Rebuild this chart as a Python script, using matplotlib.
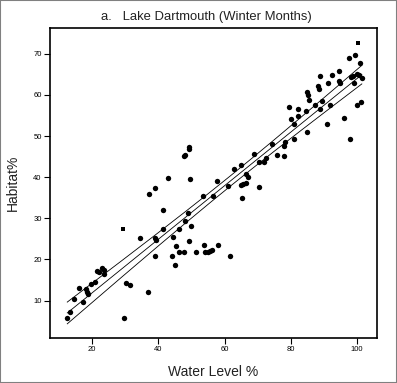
import numpy as np
import matplotlib
matplotlib.use("Agg")
import matplotlib.pyplot as plt
from matplotlib.patches import Rectangle

# water level (%) and habitat (%)
water_level = [12.51, 13.27, 14.66, 16.08, 17.28, 18.10, 18.40, 18.64, 19.70, 20.82,
               21.51, 22.20, 23.02, 23.62, 23.71, 29.57, 30.26, 31.38, 34.58, 37.00,
               37.30, 39.02, 39.17, 39.11, 39.11, 41.52, 41.52, 43.03, 44.06, 44.54,
               45.36, 45.15, 46.17, 46.36, 47.86, 47.62, 48.17, 48.08, 48.98, 49.28,
               49.37, 49.68, 49.34, 49.74, 51.31, 53.60, 53.81, 53.96, 54.87, 55.47,
               56.14, 56.44, 57.65, 58.13, 61.51, 61.15, 62.78, 64.98, 64.98, 65.68,
               66.34, 66.49, 66.94, 65.13, 69.00, 70.51, 70.51, 72.02, 72.62, 74.34,
               75.94, 77.83, 78.05, 78.17, 80.89, 79.41, 80.08, 80.89, 82.13, 82.25,
               84.60, 84.75, 84.82, 85.15, 85.60, 87.17, 88.74, 88.08, 88.62, 88.68,
               89.52, 91.00, 91.71, 91.09, 92.51, 94.42, 94.63, 94.93, 95.98, 97.98,
               97.43, 99.31, 100.75, 98.13, 98.64, 99.09, 99.91, 100.51, 101.42, 99.85,
               101.30]
habitat = [5.82, 7.18, 10.46, 12.94, 9.59, 12.82, 12.02, 11.61, 13.92, 14.40,
           17.15, 16.89, 17.86, 17.37, 16.35, 5.77, 14.36, 13.67, 25.30, 12.02,
           36.01, 25.23, 24.79, 20.73, 37.40, 32.09, 27.42, 39.90, 20.85, 25.47,
           23.16, 18.66, 27.35, 21.75, 21.75, 45.06, 45.50, 29.42, 31.27, 46.81,
           47.25, 39.66, 24.57, 28.20, 21.75, 35.50, 23.53, 21.75, 21.82, 22.07,
           22.38, 35.50, 39.05, 23.53, 20.73, 37.83, 42.09, 42.92, 38.13, 38.32,
           38.49, 40.73, 39.95, 35.04, 45.62, 37.57, 43.65, 43.60, 44.74, 48.15,
           45.30, 45.13, 47.49, 48.64, 49.27, 57.15, 54.11, 52.85, 54.84, 56.62,
           56.18, 50.95, 60.68, 59.98, 58.76, 57.54, 56.55, 62.09, 61.48, 64.60,
           58.49, 52.90, 57.59, 62.90, 64.84, 65.82, 63.48, 62.87, 54.38, 49.39,
           69.08, 69.78, 67.74, 64.28, 64.53, 62.87, 65.13, 64.89, 64.04, 57.64,
           58.39]
# the two points drawn as squares
sq_level = [29.36, 100.21]
sq_habitat = [27.49, 72.75]

x = np.array(water_level + sq_level)
y = np.array(habitat + sq_habitat)

# least squares line with 95% confidence band of the mean
b, a = np.polyfit(x, y, 1)
n = len(x)
resid = y - (a + b * x)
s = np.sqrt(np.sum(resid ** 2) / (n - 2))
sxx = np.sum((x - x.mean()) ** 2)
xs = np.linspace(x.min(), x.max(), 200)
fit = a + b * xs
half = 1.98 * s * np.sqrt(1 / n + (xs - x.mean()) ** 2 / sxx)

plt.rcParams['font.family'] = ['Liberation Sans', 'DejaVu Sans']
fig = plt.figure(figsize=(3.97, 3.83), dpi=100)
ax = fig.add_axes([50 / 397, 1 - 337.5 / 383, 327 / 397, 309.5 / 383])

ax.plot(xs, fit, color='black', lw=0.6)
ax.plot(xs, fit + half, color='black', lw=0.6)
ax.plot(xs, fit - half, color='black', lw=0.6)
ax.scatter(water_level, habitat, s=15, color='black', marker='o', linewidths=0)
ax.scatter(sq_level, sq_habitat, s=11, color='black', marker='s', linewidths=0)

ax.set_xlim(7.3, 106.0)
ax.set_ylim(1.0, 76.3)
ax.set_xticks([20, 40, 60, 80, 100])
ax.set_yticks([10, 20, 30, 40, 50, 60, 70])
ax.tick_params(direction='out', length=4, width=0.8, labelsize=5.5, pad=2)
for sp in ax.spines.values():
    sp.set_linewidth(1.2)

ax.set_xlabel('Water Level %', fontsize=10, color='#222222', labelpad=9)
ax.set_ylabel('Habitat%', fontsize=10, color='#222222', labelpad=10)
ax.set_title('a.   Lake Dartmouth (Winter Months)', fontsize=9.4, color='#222222',
             pad=6, x=0.478)

fig.patches.append(Rectangle((0, 0), 1, 1, transform=fig.transFigure,
                             fill=False, edgecolor='#808080', linewidth=1.5))

fig.savefig('out.png', dpi=100)
